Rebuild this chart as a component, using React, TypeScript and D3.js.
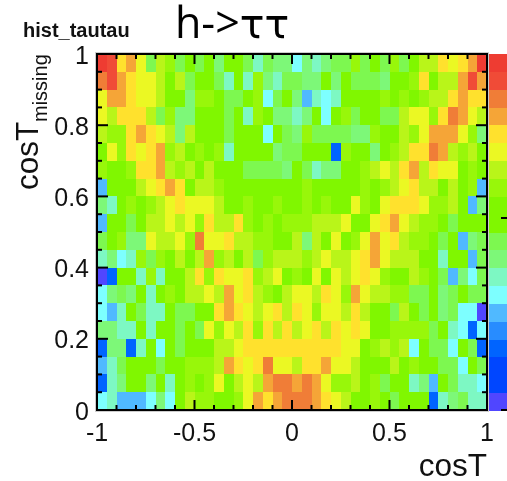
import React, { useEffect, useRef } from "react";
import * as d3 from "d3";

const W = 507, H = 481;
const xDomain: [number, number] = [-1, 1];
const yDomain: [number, number] = [0, 1];
const nx = 40, ny = 20;

const levelKeys = "abcdefghijklmnopqr";
const levelColors = ["#5046ff","#0046ff","#0064ff","#288cff","#50b9ff","#7dffff","#7df8c3","#7df878","#7df850","#80f700","#98f70a","#b9f519","#ebf823","#ffe12d","#f5a537","#f07d37","#f04b37","#ee3c32"];
const barLevels = "abbcdefghijjklmnopqr";

// Top row first: one letter per bin, each is a colour level of the z value
const rowsLeft = [
  "rqnomilkijijhjjigihh",
  "pqonmmljlijjigjgkhgi",
  "moonmmljjhkkjiijkfij",
  "mlnnnlikhhjjjijgkjhh",
  "lkknonmlhljjjijjjfji",
  "jmknmnokljkjkgjjjjhi",
  "kjjknnolkljljjjiiiih",
  "ejjjlmnonjllkjjjjjjj",
  "hgjkjklmnmmmljjkjjkj",
  "ejjijllmlmknllnkjkjk",
  "ijkhhmllmkpmmnllkkjj",
  "ghfgkikjljlokljlikll",
  "acjjgkgjjlnknmmnklmj",
  "fhihjgjkjllmlomnlkjl",
  "fegjiggjiijjnonmlmnl",
  "hhggjgjjijimkmlnknln",
  "chhcgjfjijjjllmnnnnn",
  "egijjjijjkkklonmnpmm",
  "cghjjhjgjkjkmjlmlopp",
  "fgeeefhfjlkkjjkmonop",
];
const rowsRight = [
  "fhghiikijikijllnmnor",
  "ihhjhjiiihjjknjlloqo",
  "hegfgjjjjkjkjkllnonn",
  "ghjfjkijjiilmmknpoml",
  "hkiiiihhkjjlkmooomkh",
  "ijjjckjjhjklnnpolklj",
  "jighhjjklmlnolnmmjkj",
  "jkjjjjjkjklmnlljljke",
  "jkjkjjmkjmnnnmkkljeh",
  "kklllmjjmnomlkkjijjj",
  "lhljmjkmomnlkkjijehi",
  "lklmllmnomllljjgjjei",
  "kjmjmlmnmkjjlkjiehfi",
  "mmlnmkomllkkiijhijii",
  "nmkmmlnljjiljijhiffa",
  "lmnlnmnmjjkkkkijgfcf",
  "nnnnnmmjklklfjiifjic",
  "lnnommljjjljkjjiifji",
  "opomkkljkijjghejiggf",
  "pponmljjkjijjjcghigg",
];

const xMajor = [-1, -0.5, 0, 0.5, 1];
const xLabels = ["-1", "-0.5", "0", "0.5", "1"];
const yMajor = [0, 0.2, 0.4, 0.6, 0.8, 1];
const yLabels = ["0", "0.2", "0.4", "0.6", "0.8", "1"];
const xMinor = d3.range(0, 21).map((i) => -1 + i * 0.1);
const yMinor = d3.range(0, 21).map((i) => i * 0.05);

const frame = { l: 97, r: 487, t: 54, b: 410 };
const bar = { l: 489, r: 507 };
const fontMain = "'Liberation Sans', Arial, sans-serif";

export default function App() {
  const ref = useRef<SVGSVGElement>(null);
  useEffect(() => {
    const svg = d3.select(ref.current!);
    svg.selectAll("*").remove();
    const x = d3.scaleLinear().domain(xDomain).range([frame.l, frame.r]);
    const y = d3.scaleLinear().domain(yDomain).range([frame.b, frame.t]);
    const color = d3.scaleOrdinal<string, string>().domain(levelKeys.split("")).range(levelColors);

    const dx = (xDomain[1] - xDomain[0]) / nx;
    const dy = (yDomain[1] - yDomain[0]) / ny;
    const cells = svg.append("g").attr("shape-rendering", "crispEdges");
    rowsLeft.forEach((left, r) => {
      (left + rowsRight[r]).split("").forEach((c, i) => {
        const v0 = xDomain[0] + i * dx;
        const yTop = yDomain[1] - r * dy;
        cells.append("rect")
          .attr("x", x(v0))
          .attr("y", y(yTop))
          .attr("width", x(v0 + dx) - x(v0))
          .attr("height", y(yTop - dy) - y(yTop))
          .attr("fill", color(c));
      });
    });

    // colour bar
    const by = d3.scaleBand<number>().domain(d3.range(barLevels.length)).range([frame.b + 1, frame.t]);
    const bg = svg.append("g").attr("shape-rendering", "crispEdges");
    barLevels.split("").forEach((c, i) => {
      bg.append("rect").attr("x", bar.l).attr("y", by(i)!).attr("width", bar.r - bar.l).attr("height", by.bandwidth()).attr("fill", color(c));
    });
    bg.append("line").attr("x1", 501).attr("x2", bar.r).attr("y1", 218).attr("y2", 218).attr("stroke", "#000").attr("stroke-width", 2);
    bg.append("line").attr("x1", 501).attr("x2", bar.r).attr("y1", frame.b).attr("y2", frame.b).attr("stroke", "#000").attr("stroke-width", 2);

    // frame
    const axes = svg.append("g").attr("stroke", "#000").attr("fill", "none");
    axes.append("rect").attr("x", frame.l - 1.5).attr("y", frame.t - 1.5).attr("width", frame.r - frame.l + 3).attr("height", frame.b - frame.t + 3).attr("stroke", "#ccc").attr("stroke-width", 1);
    axes.append("rect").attr("x", frame.l).attr("y", frame.t).attr("width", frame.r - frame.l).attr("height", frame.b - frame.t).attr("stroke-width", 2);

    const ticks = axes.append("g").attr("stroke-width", 2);
    xMinor.forEach((v) => {
      const len = xMajor.some((m) => Math.abs(m - v) < 1e-6) ? 10 : 5;
      ticks.append("line").attr("x1", x(v)).attr("x2", x(v)).attr("y1", frame.b).attr("y2", frame.b - len);
      ticks.append("line").attr("x1", x(v)).attr("x2", x(v)).attr("y1", frame.t).attr("y2", frame.t + len);
    });
    yMinor.forEach((v) => {
      const len = yMajor.some((m) => Math.abs(m - v) < 1e-6) ? 11 : 5;
      ticks.append("line").attr("y1", y(v)).attr("y2", y(v)).attr("x1", frame.l).attr("x2", frame.l + len);
      ticks.append("line").attr("y1", y(v)).attr("y2", y(v)).attr("x1", frame.r).attr("x2", frame.r - len);
    });

    // tick labels
    const labels = svg.append("g").attr("font-family", fontMain).attr("fill", "#111").attr("font-size", 25);
    xMajor.forEach((v, i) => {
      labels.append("text").attr("x", x(v)).attr("y", 441).attr("text-anchor", "middle").text(xLabels[i]);
    });
    yMajor.forEach((v, i) => {
      labels.append("text").attr("x", 89).attr("y", y(v) + 9.5).attr("text-anchor", "end").text(yLabels[i]);
    });

    // axis titles
    svg.append("text").attr("x", 487).attr("y", 476).attr("text-anchor", "end")
      .attr("font-family", fontMain).attr("font-size", 31.5).attr("fill", "#111").text("cosT");
    svg.append("text").attr("transform", "translate(37.5,190) rotate(-90)")
      .attr("font-family", fontMain).attr("font-size", 31.5).attr("fill", "#111").text("cosT");
    svg.append("text").attr("transform", "translate(47,122) rotate(-90)")
      .attr("font-family", fontMain).attr("font-size", 20).attr("fill", "#111").text("missing");

    // titles
    svg.append("text").attr("x", 23).attr("y", 37).attr("font-family", fontMain).attr("font-weight", "bold")
      .attr("font-size", 20).attr("fill", "#111").text("hist_tautau");
    const title = svg.append("text").attr("x", 175).attr("y", 38).attr("font-family", "'Open Sans', sans-serif")
      .attr("font-size", 43).attr("fill", "#000");
    title.append("tspan").text("h->");
    title.append("tspan").attr("font-family", "'DejaVu Sans', sans-serif").attr("font-size", 41).text("\u03c4\u03c4");
  }, []);
  return (
    <svg ref={ref} width={W} height={H} style={{ position: "absolute", left: 0, top: 0, background: "#fff", filter: "blur(0.35px)" }} />
  );
}
